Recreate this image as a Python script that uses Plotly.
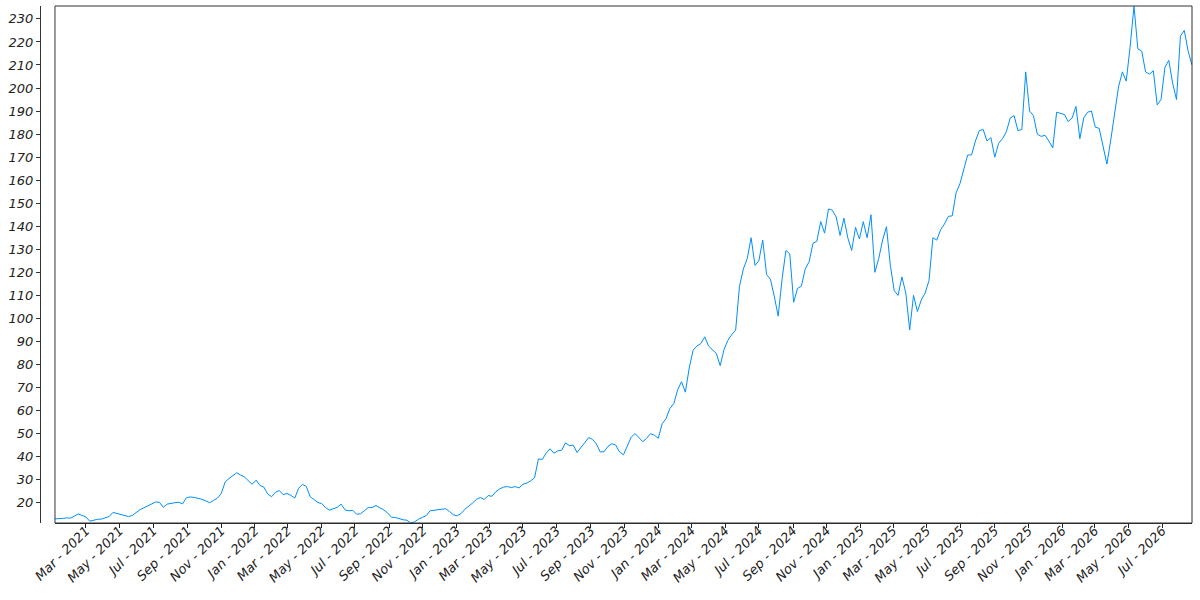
import pandas as pd
import plotly.graph_objects as go

# weekly closes, first point = week of 2021-01-04
start_date = "2021-01-04"
prices_2021 = [
    13.0, 13.0, 13.2, 13.4, 13.3, 14.2, 15.1, 14.5, 13.8, 12.0, 12.5, 12.8, 12.9,
    13.3, 14.0, 15.8, 15.4, 15.0, 14.6, 14.0, 14.5, 15.8, 17.0, 17.8, 18.6, 19.6,
    20.3, 20.2, 18.0, 19.4, 19.8, 20.0, 20.2, 19.5, 22.2, 22.5, 22.3, 22.0, 21.5,
    20.8, 20.0, 21.0, 22.0, 24.0, 29.0, 30.5, 31.8, 33.0, 32.0, 31.2, 29.5, 28.0,
]
prices_2022 = [
    29.8, 27.5, 26.8, 23.8, 22.6, 24.5, 25.3, 23.5, 24.0, 23.2, 22.0, 26.3, 28.0,
    27.0, 22.6, 21.2, 20.1, 19.6, 17.8, 16.8, 17.3, 18.0, 19.4, 16.9, 16.5, 16.7,
    15.0, 15.2, 16.5, 17.9, 17.9, 18.8, 17.8, 16.9, 15.6, 13.7, 13.6, 13.0, 12.6,
    12.4, 11.2, 11.7, 12.9, 13.6, 14.4, 16.5, 16.7, 16.8,
]
prices_2023 = [
    16.9, 17.4, 16.2, 14.8, 14.3, 15.3, 17.2, 18.4, 19.9, 21.5, 22.3, 21.4, 23.1,
    22.8, 24.8, 26.0, 26.8, 27.0, 26.6, 27.0, 26.4, 28.0, 28.5, 29.5, 30.8, 39.0,
    38.8, 41.5, 43.4, 41.5, 42.5, 42.8, 46.0, 44.8, 45.0, 41.8, 44.0, 46.3, 48.3,
    47.5, 45.5, 42.0, 42.2, 44.5, 45.6, 45.0, 42.0, 40.8, 44.5, 48.5,
]
prices_2024 = [
    50.0, 48.0, 46.5, 48.0, 50.0, 49.3, 48.0, 54.3, 56.5, 60.9, 63.0, 69.0, 72.5,
    68.0, 78.5, 86.2, 88.0, 89.1, 92.0, 88.0, 86.5, 84.8, 79.5, 86.5, 90.5, 93.0,
    94.9, 114.0, 121.5, 126.0, 135.0, 123.0, 125.0, 134.0, 119.0, 117.0, 109.5,
    101.0, 117.0, 129.5, 128.0, 107.0, 113.0, 114.0, 121.5, 124.6, 132.6, 133.5,
    142.0,
]
prices_2025 = [
    137.0, 147.5, 147.0, 144.0, 136.0, 143.5, 135.0, 129.5, 139.5, 134.5, 142.0,
    135.0, 145.0, 120.0, 126.0, 134.0, 139.8, 123.0, 112.0, 110.0, 118.0, 111.0,
    95.0, 110.0, 103.0, 108.0, 111.0, 116.5, 135.0, 134.0, 138.5, 141.0, 144.3,
    144.5, 154.5, 158.5, 164.5, 170.9, 171.0, 177.0, 181.5, 182.0, 177.0, 178.5,
    170.0, 176.0, 178.0, 181.0, 187.0,
]
prices_2026 = [
    188.0, 181.5, 182.0, 207.0, 190.0, 188.0, 180.0, 179.0, 179.5, 177.0, 174.0,
    189.5, 189.0, 188.5, 185.4, 187.0, 192.0, 178.0, 187.0, 189.5, 190.0, 183.0,
    182.5, 175.0, 167.0, 177.5, 189.0, 200.5, 207.0, 203.0, 218.0, 235.5, 217.0,
    216.0, 207.0, 206.0, 207.5, 192.7, 195.0, 209.0, 212.0, 202.0, 195.0, 222.5,
    225.0, 216.0, 210.0,
]

prices = prices_2021 + prices_2022 + prices_2023 + prices_2024 + prices_2025 + prices_2026
dates = pd.date_range(start_date, periods=len(prices), freq="7D")

tick_font = dict(family="DejaVu Sans", size=13, color="#222", style="italic")

fig = go.Figure()
fig.add_trace(
    go.Scatter(
        x=dates,
        y=prices,
        mode="lines",
        line=dict(color="#008FFB", width=1),
        hoverinfo="x+y",
    )
)

fig.update_xaxes(
    domain=[0.013, 1],
    automargin=False,
    showgrid=False,
    zeroline=False,
    showline=True,
    linecolor="#222",
    linewidth=1,
    ticks="outside",
    ticklen=4,
    tickcolor="#222",
    tick0="2021-01-01",
    dtick="M2",
    tickformat="%b - %Y",
    tickangle=-45,
    ticklabelstandoff=-10,
    tickfont=tick_font,
)
fig.update_yaxes(
    range=[11.2, 235.6],
    anchor="free",
    position=0,
    automargin=False,
    showgrid=False,
    zeroline=False,
    showline=True,
    linecolor="#333",
    linewidth=1,
    ticks="outside",
    ticklen=4,
    tickcolor="#333",
    tick0=0,
    dtick=10,
    tickfont=tick_font,
)

# frame round the plotting area
fig.add_shape(
    type="rect",
    xref="x domain",
    yref="y domain",
    x0=0,
    x1=1,
    y0=0,
    y1=1,
    line=dict(color="#333", width=1),
)

fig.update_layout(
    width=1200,
    height=600,
    showlegend=False,
    plot_bgcolor="white",
    paper_bgcolor="white",
    margin=dict(l=40, r=8, t=6, b=77, autoexpand=False),
)

# page body margin would push the figure 8px off the window
fig.write_html(
    "out.html",
    config={"displayModeBar": False},
    post_script="document.body.style.margin = '0';",
)
